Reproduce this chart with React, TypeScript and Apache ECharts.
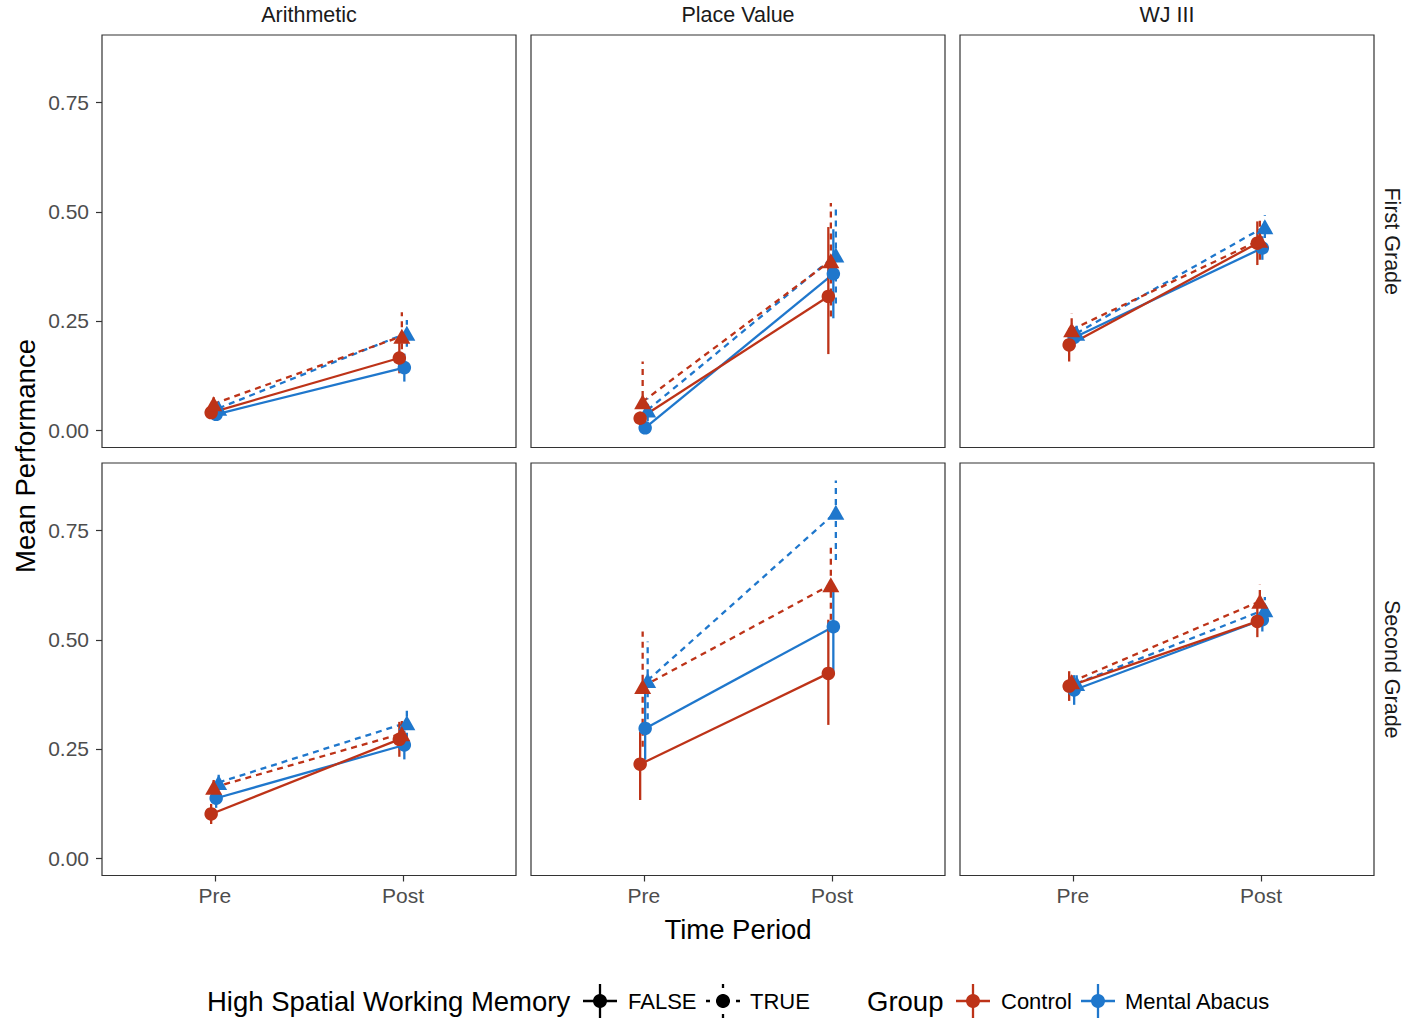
import React, { useEffect, useRef } from "react";
import * as echarts from "echarts";

// ---------- data ----------
const timeLabels = ["Pre", "Post"];
const subjects = ["Arithmetic", "Place Value", "WJ III"];
const grades = ["First Grade", "Second Grade"];
const groupNames = ["Control", "Mental Abacus"];
const hswmNames = ["FALSE", "TRUE"];
const yTicks = [0, 0.25, 0.5, 0.75];

// panel order: G1 Arith, G1 PV, G1 WJ, G2 Arith, G2 PV, G2 WJ ; each [Pre, Post]
const controlFalseMean = [[0.040, 0.165], [0.027, 0.306], [0.195, 0.428], [0.101, 0.272], [0.215, 0.423], [0.394, 0.542]];
const controlFalseLo = [[0.030, 0.130], [0.012, 0.174], [0.157, 0.378], [0.078, 0.232], [0.133, 0.305], [0.360, 0.506]];
const controlFalseHi = [[0.050, 0.200], [0.042, 0.465], [0.233, 0.478], [0.124, 0.312], [0.290, 0.546], [0.428, 0.578]];

const controlTrueMean = [[0.060, 0.215], [0.065, 0.388], [0.230, 0.435], [0.162, 0.285], [0.393, 0.626], [0.404, 0.588]];
const controlTrueLo = [[0.045, 0.160], [0.000, 0.260], [0.192, 0.390], [0.140, 0.250], [0.255, 0.546], [0.380, 0.550]];
const controlTrueHi = [[0.075, 0.270], [0.157, 0.520], [0.268, 0.480], [0.184, 0.320], [0.519, 0.718], [0.428, 0.626]];

const abacusFalseMean = [[0.036, 0.143], [0.005, 0.358], [0.212, 0.417], [0.137, 0.259], [0.297, 0.530], [0.385, 0.546]];
const abacusFalseLo = [[0.028, 0.111], [-0.005, 0.256], [0.190, 0.390], [0.115, 0.226], [0.225, 0.424], [0.351, 0.519]];
const abacusFalseHi = [[0.044, 0.175], [0.015, 0.460], [0.234, 0.444], [0.159, 0.292], [0.378, 0.615], [0.419, 0.573]];

const abacusTrueMean = [[0.050, 0.222], [0.046, 0.401], [0.222, 0.466], [0.173, 0.310], [0.407, 0.792], [0.400, 0.569]];
const abacusTrueLo = [[0.040, 0.191], [0.020, 0.290], [0.200, 0.440], [0.155, 0.273], [0.318, 0.683], [0.380, 0.540]];
const abacusTrueHi = [[0.060, 0.252], [0.072, 0.516], [0.244, 0.492], [0.191, 0.347], [0.496, 0.865], [0.420, 0.598]];

// ---------- styling ----------
const RED = "#BD3318";
const BLUE = "#1F77CC";
const FONT = "'Liberation Sans', Arial, Helvetica, sans-serif";
const PANEL_LEFT = [102, 531, 960];
const PANEL_TOP = [35, 463];
const PANEL_W = 414;
const PANEL_H = 412.5;
const DODGE = 0.0133;
const DASH = [6, 5];
const LW = 2.3;
const TITLE_SIZE = 27.5;
const LABEL_SIZE = 22;
const TICK_SIZE = 21;

const combos = [
  { color: BLUE, dashed: false, symbol: "circle", order: 2, mean: abacusFalseMean, lo: abacusFalseLo, hi: abacusFalseHi, name: "Mental Abacus FALSE" },
  { color: BLUE, dashed: true, symbol: "triangle", order: 3, mean: abacusTrueMean, lo: abacusTrueLo, hi: abacusTrueHi, name: "Mental Abacus TRUE" },
  { color: RED, dashed: false, symbol: "circle", order: 0, mean: controlFalseMean, lo: controlFalseLo, hi: controlFalseHi, name: "Control FALSE" },
  { color: RED, dashed: true, symbol: "triangle", order: 1, mean: controlTrueMean, lo: controlTrueLo, hi: controlTrueHi, name: "Control TRUE" },
];

function buildOption() {
  const grid: any[] = [];
  const xAxis: any[] = [];
  const yAxis: any[] = [];
  const series: any[] = [];

  for (let r = 0; r < 2; r++) {
    for (let c = 0; c < 3; c++) {
      const p = r * 3 + c;
      grid.push({
        left: PANEL_LEFT[c],
        top: PANEL_TOP[r],
        width: PANEL_W,
        height: PANEL_H,
        show: true,
        borderColor: "#333333",
        borderWidth: 1.2,
        backgroundColor: "#ffffff",
        containLabel: false,
        outerBoundsMode: "none",
      });
      xAxis.push({
        type: "value",
        gridIndex: p,
        position: "bottom",
        min: 0.4,
        max: 2.6,
        splitLine: { show: false },
        axisLine: { show: false, onZero: false },
        axisTick: {
          show: r === 1,
          inside: false,
          length: 6,
          lineStyle: { color: "#333333", width: 1.2 },
          customValues: [1, 2],
        },
        axisLabel: {
          show: r === 1,
          customValues: [1, 2],
          formatter: (v: number) => timeLabels[Math.round(v) - 1] ?? "",
          color: "#4d4d4d",
          fontSize: TICK_SIZE,
          fontFamily: FONT,
          margin: 9,
        },
      });
      yAxis.push({
        type: "value",
        gridIndex: p,
        position: "left",
        min: -0.04,
        max: 0.905,
        splitLine: { show: false },
        axisLine: { show: false, onZero: false },
        axisTick: {
          show: c === 0,
          inside: false,
          length: 6,
          lineStyle: { color: "#333333", width: 1.2 },
          customValues: yTicks,
        },
        axisLabel: {
          show: c === 0,
          customValues: yTicks,
          formatter: (v: number) => v.toFixed(2),
          color: "#4d4d4d",
          fontSize: TICK_SIZE,
          fontFamily: FONT,
          margin: 13,
        },
      });

      // lines
      combos.forEach((cb) => {
        const off = (cb.order - 1.5) * DODGE;
        series.push({
          type: "line",
          name: cb.name,
          xAxisIndex: p,
          yAxisIndex: p,
          data: cb.mean[p].map((m, t) => [t + 1 + off, m]),
          showSymbol: false,
          symbol: "none",
          lineStyle: { color: cb.color, width: LW, type: cb.dashed ? DASH : "solid" },
          z: 2,
          silent: true,
        });
      });
      // error bars
      combos.forEach((cb) => {
        const off = (cb.order - 1.5) * DODGE;
        series.push({
          type: "custom",
          name: cb.name + " err",
          xAxisIndex: p,
          yAxisIndex: p,
          data: cb.mean[p].map((_, t) => [t + 1 + off, cb.lo[p][t], cb.hi[p][t]]),
          encode: { x: 0, y: [1, 2] },
          renderItem: (params: any, api: any) => {
            const x = api.value(0);
            const a = api.coord([x, api.value(1)]);
            const b = api.coord([x, api.value(2)]);
            return {
              type: "line",
              shape: { x1: a[0], y1: a[1], x2: b[0], y2: b[1] },
              style: { stroke: cb.color, lineWidth: LW, lineDash: cb.dashed ? DASH : null, fill: null },
            };
          },
          z: 3,
          silent: true,
        });
      });
      // points
      combos.forEach((cb) => {
        const off = (cb.order - 1.5) * DODGE;
        series.push({
          type: "scatter",
          name: cb.name + " pt",
          xAxisIndex: p,
          yAxisIndex: p,
          data: cb.mean[p].map((m, t) => [t + 1 + off, m]),
          symbol: cb.symbol,
          symbolSize: cb.symbol === "circle" ? 13.5 : [17, 15],
          itemStyle: { color: cb.color, opacity: 1 },
          z: 4,
          silent: true,
        });
      });
    }
  }

  const txt = (x: number, y: number, text: string, size: number, opts: any = {}) => ({
    type: "text",
    x,
    y,
    rotation: opts.rotation || 0,
    style: {
      text,
      fill: opts.fill || "#000000",
      fontSize: size,
      fontFamily: FONT,
      align: opts.align || "center",
      verticalAlign: "middle",
    },
    silent: true,
  });

  const key = (cx: number, cy: number, color: string, dashed: boolean) => ({
    type: "group",
    children: [
      {
        type: "line",
        shape: { x1: cx - 17, y1: cy, x2: cx + 17, y2: cy },
        style: { stroke: color, lineWidth: LW, lineDash: dashed ? [4, 6] : null },
      },
      {
        type: "line",
        shape: { x1: cx, y1: cy - 17, x2: cx, y2: cy + 17 },
        style: { stroke: color, lineWidth: LW, lineDash: dashed ? [4, 6] : null },
      },
      { type: "circle", shape: { cx, cy, r: 7 }, style: { fill: color } },
    ],
  });

  const graphic: any[] = [];
  subjects.forEach((s, c) => graphic.push(txt(PANEL_LEFT[c] + PANEL_W / 2, 14.5, s, 21.5, { fill: "#1a1a1a" })));
  grades.forEach((g, r) =>
    graphic.push(txt(1392, PANEL_TOP[r] + PANEL_H / 2, g, 21.5, { fill: "#1a1a1a", rotation: -Math.PI / 2 }))
  );
  graphic.push(txt(738, 929, "Time Period", TITLE_SIZE));
  graphic.push(txt(25, 456, "Mean Performance", TITLE_SIZE, { rotation: Math.PI / 2 }));

  // legend
  const LY = 1001;
  graphic.push(txt(207, LY, "High Spatial Working Memory", TITLE_SIZE, { align: "left" }));
  graphic.push(key(600, LY, "#000000", false));
  graphic.push(txt(628, LY, hswmNames[0], LABEL_SIZE, { align: "left" }));
  graphic.push(key(723, LY, "#000000", true));
  graphic.push(txt(750, LY, hswmNames[1], LABEL_SIZE, { align: "left" }));
  graphic.push(txt(867, LY, "Group", TITLE_SIZE, { align: "left" }));
  graphic.push(key(973, LY, RED, false));
  graphic.push(txt(1001, LY, groupNames[0], LABEL_SIZE, { align: "left" }));
  graphic.push(key(1098, LY, BLUE, false));
  graphic.push(txt(1125, LY, groupNames[1], LABEL_SIZE, { align: "left" }));

  return {
    animation: false,
    backgroundColor: "#ffffff",
    textStyle: { fontFamily: FONT },
    grid,
    xAxis,
    yAxis,
    series,
    graphic,
  };
}

export default function App() {
  const ref = useRef<HTMLDivElement>(null);
  useEffect(() => {
    document.body.style.margin = "0";
    if (!ref.current) return;
    const chart = echarts.init(ref.current, undefined, { renderer: "svg" });
    chart.setOption(buildOption() as any);
    return () => chart.dispose();
  }, []);
  return <div ref={ref} style={{ width: 1417, height: 1026 }} />;
}
